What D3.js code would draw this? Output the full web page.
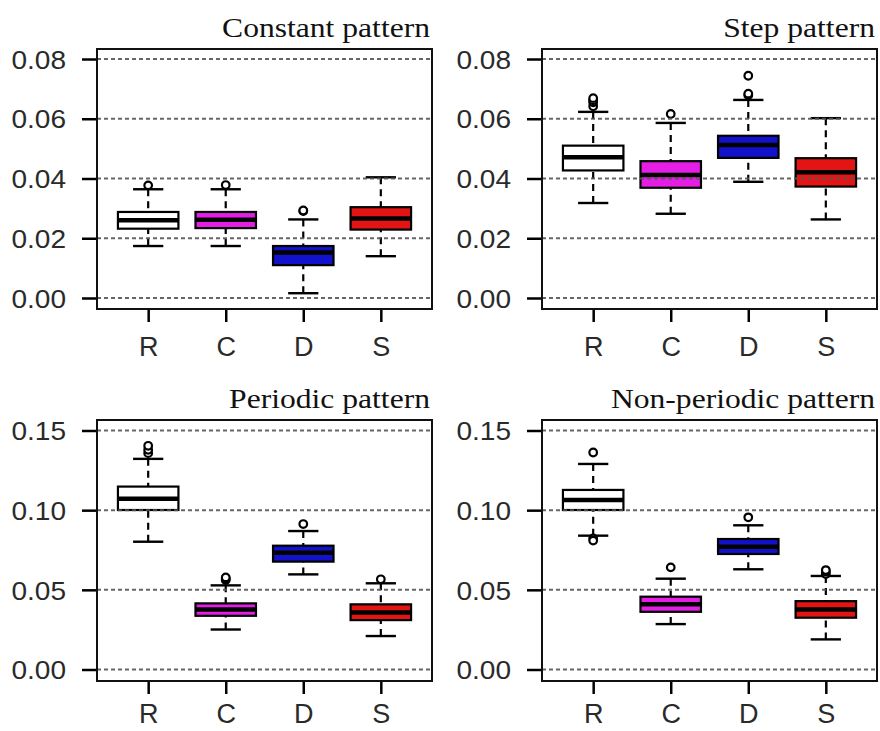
<!DOCTYPE html>
<html>
<head>
<meta charset="utf-8">
<script src="https://cdn.jsdelivr.net/npm/d3@7"></script>
<style>
	body { margin: 0; background: #fff; }
	svg { display: block; }
</style>
</head>
<body>
<div id="chart"></div>
<script>

var categories = ['R', 'C', 'D', 'S']
var fills = ['#ffffff', '#e41ee4', '#1212cc', '#e21414']

var titles = ['Constant pattern', 'Step pattern', 'Periodic pattern', 'Non-periodic pattern']

var smallTicks = [0, 0.02, 0.04, 0.06, 0.08]
var largeTicks = [0, 0.05, 0.10, 0.15]

// [lower whisker, q1, median, q3, upper whisker] for R, C, D, S
var constantStats = [
	[0.0174, 0.0232, 0.0260, 0.0288, 0.0364],
	[0.0174, 0.0234, 0.0262, 0.0288, 0.0364],
	[0.0016, 0.0110, 0.0152, 0.0174, 0.0263],
	[0.0140, 0.0229, 0.0266, 0.0304, 0.0404]
]
var constantOutliers = [[0.0377], [0.0378], [0.0291, 0.0293], []]

var stepStats = [
	[0.0318, 0.0427, 0.0471, 0.0510, 0.0623],
	[0.0282, 0.0369, 0.0412, 0.0458, 0.0586],
	[0.0389, 0.0469, 0.0512, 0.0543, 0.0663],
	[0.0263, 0.0373, 0.0421, 0.0468, 0.0602]
]
var stepOutliers = [[0.0642, 0.0655, 0.0662, 0.0669], [0.0616], [0.0679, 0.0684, 0.0744], []]

var periodicStats = [
	[0.0802, 0.1001, 0.1071, 0.1148, 0.1322],
	[0.0251, 0.0337, 0.0377, 0.0415, 0.0528],
	[0.0597, 0.0677, 0.0733, 0.0777, 0.0869],
	[0.0210, 0.0310, 0.0358, 0.0409, 0.0541]
]
var periodicOutliers = [[0.1358, 0.1379, 0.1404], [0.0561, 0.0570, 0.0578], [0.0913], [0.0566]]

var nonPeriodicStats = [
	[0.0840, 0.1001, 0.1064, 0.1127, 0.1290],
	[0.0285, 0.0362, 0.0409, 0.0457, 0.0570],
	[0.0629, 0.0725, 0.0771, 0.0819, 0.0905],
	[0.0189, 0.0325, 0.0377, 0.0429, 0.0587]
]
var nonPeriodicOutliers = [[0.1362, 0.0823, 0.0809], [0.0641], [0.0955], [0.0599, 0.0614, 0.0624]]

var width = 880,
	height = 731

var svg = d3.select('#chart')
	.append('svg')
	.attr('width', width)
	.attr('height', height)

// plot box position for each panel
var panels = [
	{ title: titles[0], stats: constantStats, outliers: constantOutliers, ticks: smallTicks,
		left: 97, right: 432, top: 49, bottom: 309, y0: 298, y1: 59, pad: 15 },
	{ title: titles[1], stats: stepStats, outliers: stepOutliers, ticks: smallTicks,
		left: 542, right: 877, top: 49, bottom: 309, y0: 298, y1: 59, pad: 15 },
	{ title: titles[2], stats: periodicStats, outliers: periodicOutliers, ticks: largeTicks,
		left: 97, right: 432, top: 420, bottom: 681, y0: 669.5, y1: 430.5, pad: 10 },
	{ title: titles[3], stats: nonPeriodicStats, outliers: nonPeriodicOutliers, ticks: largeTicks,
		left: 542, right: 877, top: 420, bottom: 681, y0: 669.5, y1: 430.5, pad: 10 }
]

// the source picture is stretched sideways, so widen the glyphs a bit
var stretch = (sel, k) => {
	sel.each(function () {
		var w = this.getComputedTextLength()
		d3.select(this)
			.attr('textLength', w * k)
			.attr('lengthAdjust', 'spacingAndGlyphs')
	})
}

var draw_panel = p => {

	var g = svg.append('g')

	var ticks = p.ticks
	var y = d3.scaleLinear()
		.domain([ticks[0], ticks[ticks.length - 1]])
		.range([p.y0, p.y1])

	// R style x axis: positions 1..n with 4% extension
	var x = d3.scaleLinear()
		.domain([0.5 - 0.16, 4.5 + 0.16])
		.range([p.left, p.right])

	var unit = x(2) - x(1)
	var boxW = unit * 0.78

	// y axis
	var yAxis = g.append('g')
		.attr('transform', 'translate(' + p.left + ',0)')
		.call(d3.axisLeft(y)
			.tickValues(ticks)
			.tickSize(15)
			.tickPadding(16)
			.tickFormat(d3.format('.2f')))
	yAxis.select('.domain').remove()
	yAxis.selectAll('line').attr('stroke', '#000').attr('stroke-width', 2.5)
	yAxis.selectAll('text')
		.attr('font-family', 'Liberation Sans, Arial, sans-serif')
		.attr('font-size', 25.5)
		.attr('fill', '#2a2a2a')
		.attr('dy', '0.36em')
		.call(stretch, 1.1)

	// x axis
	var xAxis = g.append('g')
		.attr('transform', 'translate(0,' + p.bottom + ')')
		.call(d3.axisBottom(x)
			.tickValues([1, 2, 3, 4])
			.tickSize(13)
			.tickPadding(p.pad)
			.tickFormat(i => categories[i - 1]))
	xAxis.select('.domain').remove()
	xAxis.selectAll('line').attr('stroke', '#000').attr('stroke-width', 2.5)
	xAxis.selectAll('text')
		.attr('font-family', 'Liberation Sans, Arial, sans-serif')
		.attr('font-size', 27)
		.attr('fill', '#2a2a2a')

	// boxes
	var boxes = g.selectAll('g.box')
		.data(p.stats)
		.join('g')
			.attr('class', 'box')
			.attr('transform', (d, i) => 'translate(' + x(i + 1) + ',0)')

	// whiskers
	boxes.append('line')
		.attr('y1', d => y(d[0]))
		.attr('y2', d => y(d[1]))
		.attr('stroke', '#000')
		.attr('stroke-width', 2.2)
		.attr('stroke-dasharray', '7,5')

	boxes.append('line')
		.attr('y1', d => y(d[4]))
		.attr('y2', d => y(d[3]))
		.attr('stroke', '#000')
		.attr('stroke-width', 2.2)
		.attr('stroke-dasharray', '7,5')

	// staples
	boxes.selectAll('line.staple')
		.data(d => [d[0], d[4]])
		.join('line')
			.attr('class', 'staple')
			.attr('x1', -boxW / 4)
			.attr('x2', boxW / 4)
			.attr('y1', d => y(d))
			.attr('y2', d => y(d))
			.attr('stroke', '#000')
			.attr('stroke-width', 2.4)

	boxes.append('rect')
		.attr('x', -boxW / 2)
		.attr('width', boxW)
		.attr('y', d => y(d[3]))
		.attr('height', d => y(d[1]) - y(d[3]))
		.attr('fill', (d, i) => fills[i])
		.attr('stroke', '#000')
		.attr('stroke-width', 2.2)

	boxes.append('line')
		.attr('x1', -boxW / 2)
		.attr('x2', boxW / 2)
		.attr('y1', d => y(d[2]))
		.attr('y2', d => y(d[2]))
		.attr('stroke', '#000')
		.attr('stroke-width', 4.5)

	// outliers
	g.selectAll('circle')
		.data(p.outliers.flatMap((list, i) => list.map(v => ({ i: i, v: v }))))
		.join('circle')
			.attr('cx', d => x(d.i + 1))
			.attr('cy', d => y(d.v))
			.attr('r', 3.8)
			.attr('fill', '#fff')
			.attr('stroke', '#000')
			.attr('stroke-width', 2.2)

	// dotted grid on top of boxes, as in the original
	g.selectAll('line.grid')
		.data(ticks)
		.join('line')
			.attr('class', 'grid')
			.attr('x1', p.left)
			.attr('x2', p.right)
			.attr('y1', d => y(d))
			.attr('y2', d => y(d))
			.attr('stroke', '#555')
			.attr('stroke-opacity', 0.9)
			.attr('stroke-width', 2)
			.attr('stroke-dasharray', '4,3')

	// frame
	g.append('rect')
		.attr('x', p.left)
		.attr('y', p.top)
		.attr('width', p.right - p.left)
		.attr('height', p.bottom - p.top)
		.attr('fill', 'none')
		.attr('stroke', '#111')
		.attr('stroke-width', 2)

	// title
	g.append('text')
		.attr('x', p.right - 2)
		.attr('y', p.top - 12)
		.attr('text-anchor', 'end')
		.attr('font-family', 'Liberation Serif, Times New Roman, serif')
		.attr('font-size', 27)
		.attr('fill', '#111')
		.text(p.title)
		.call(stretch, 1.17)

}

panels.forEach(draw_panel)

</script>
</body>
</html>
